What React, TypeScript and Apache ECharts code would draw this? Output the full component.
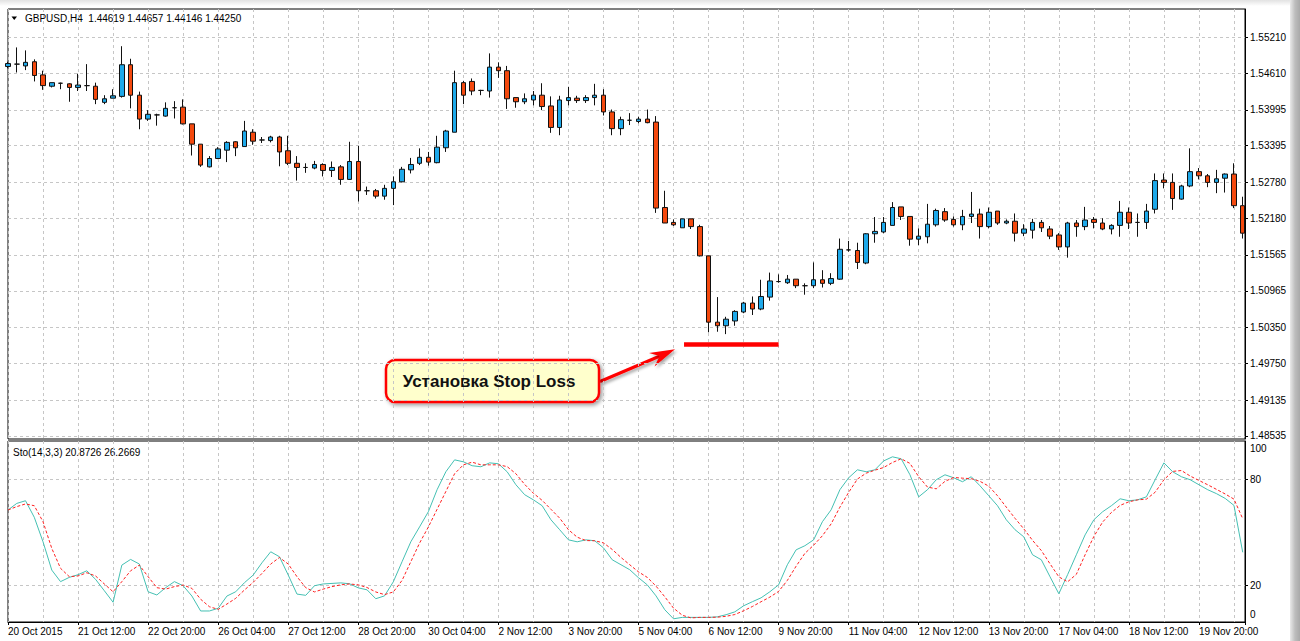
import React, { useEffect, useRef } from 'react';
import * as echarts from 'echarts';

// ---- data (GBPUSD H4, bars from 20 Oct 2015 04:00) ----
const opens = [1.5472,1.5476,1.5473,1.5480,1.5458,1.5439,1.5444,1.5443,1.5437,1.5440,1.5439,1.5412,1.5419,1.5422,1.5475,1.5424,1.5384,1.5391,1.5389,1.5403,1.5404,1.5376,1.5342,1.5304,1.5318,1.5332,1.5346,1.5338,1.5362,1.5349,1.5348,1.5354,1.5331,1.5310,1.5303,1.5302,1.5308,1.5298,1.5304,1.5283,1.5313,1.5264,1.5264,1.5255,1.5268,1.5279,1.5299,1.5310,1.5320,1.5311,1.5336,1.5362,1.5445,1.5447,1.5432,1.5431,1.5471,1.5465,1.5420,1.5413,1.5416,1.5424,1.5406,1.5370,1.5415,1.5419,1.5415,1.5420,1.5424,1.5396,1.5368,1.5382,1.5380,1.5384,1.5379,1.5236,1.5211,1.5202,1.5217,1.5204,1.5155,1.5044,1.5038,1.5046,1.5061,1.5076,1.5066,1.5086,1.5112,1.5110,1.5116,1.5105,1.5105,1.5115,1.5109,1.5116,1.5165,1.5164,1.5143,1.5192,1.5195,1.5206,1.5237,1.5221,1.5183,1.5187,1.5207,1.5229,1.5216,1.5207,1.5221,1.5225,1.5204,1.5230,1.5210,1.5213,1.5193,1.5198,1.5211,1.5200,1.5190,1.5170,1.5210,1.5204,1.5216,1.5210,1.5200,1.5206,1.5228,1.5211,1.5211,1.5233,1.5282,1.5278,1.5250,1.5272,1.5296,1.5289,1.5278,1.5285,1.5292,1.5239];
const closes = [1.5477,1.5476,1.5479,1.5457,1.5440,1.5445,1.5444,1.5437,1.5441,1.5440,1.5417,1.5418,1.5423,1.5475,1.5424,1.5384,1.5392,1.5391,1.5402,1.5403,1.5376,1.5342,1.5307,1.5318,1.5334,1.5345,1.5336,1.5364,1.5347,1.5349,1.5354,1.5329,1.5310,1.5303,1.5303,1.5308,1.5298,1.5303,1.5283,1.5313,1.5264,1.5264,1.5255,1.5268,1.5279,1.5300,1.5308,1.5320,1.5312,1.5337,1.5364,1.5445,1.5424,1.5431,1.5432,1.5471,1.5465,1.5418,1.5413,1.5418,1.5424,1.5405,1.5370,1.5416,1.5420,1.5415,1.5420,1.5424,1.5396,1.5368,1.5383,1.5382,1.5384,1.5378,1.5235,1.5210,1.5207,1.5217,1.5204,1.5155,1.5044,1.5038,1.5049,1.5062,1.5076,1.5066,1.5087,1.5113,1.5112,1.5116,1.5105,1.5105,1.5115,1.5109,1.5117,1.5166,1.5165,1.5144,1.5192,1.5196,1.5211,1.5236,1.5221,1.5183,1.5188,1.5208,1.5231,1.5215,1.5207,1.5221,1.5225,1.5204,1.5228,1.5210,1.5213,1.5193,1.5200,1.5211,1.5202,1.5188,1.5170,1.5210,1.5204,1.5215,1.5211,1.5200,1.5206,1.5228,1.5210,1.5211,1.5230,1.5281,1.5278,1.5251,1.5272,1.5296,1.5289,1.5278,1.5284,1.5292,1.5239,1.5193];
const lows = [1.5469,1.5462,1.5466,1.5447,1.5433,1.5437,1.5434,1.5413,1.5431,1.5431,1.5409,1.5409,1.5419,1.5420,1.5402,1.5367,1.5381,1.5373,1.5388,1.5385,1.5375,1.5323,1.5304,1.5303,1.5317,1.5312,1.5322,1.5338,1.5341,1.5344,1.5345,1.5305,1.5307,1.5281,1.5294,1.5300,1.5288,1.5287,1.5274,1.5282,1.5246,1.5257,1.5251,1.5249,1.5240,1.5278,1.5293,1.5307,1.5306,1.5310,1.5329,1.5362,1.5409,1.5424,1.5424,1.5420,1.5453,1.5401,1.5403,1.5409,1.5407,1.5399,1.5361,1.5357,1.5407,1.5411,1.5411,1.5407,1.5390,1.5357,1.5357,1.5374,1.5377,1.5377,1.5227,1.5210,1.5205,1.5202,1.5200,1.5154,1.5027,1.5028,1.5024,1.5038,1.5059,1.5056,1.5064,1.5080,1.5110,1.5108,1.5101,1.5090,1.5101,1.5102,1.5106,1.5115,1.5162,1.5133,1.5141,1.5177,1.5193,1.5206,1.5215,1.5172,1.5173,1.5176,1.5204,1.5212,1.5204,1.5198,1.5210,1.5184,1.5201,1.5207,1.5208,1.5179,1.5188,1.5184,1.5195,1.5183,1.5165,1.5152,1.5187,1.5198,1.5201,1.5198,1.5191,1.5187,1.5200,1.5187,1.5200,1.5226,1.5268,1.5232,1.5249,1.5270,1.5283,1.5270,1.5260,1.5261,1.5235,1.5184];
const highs = [1.5480,1.5504,1.5499,1.5484,1.5465,1.5445,1.5445,1.5444,1.5460,1.5476,1.5445,1.5424,1.5434,1.5506,1.5485,1.5430,1.5399,1.5393,1.5412,1.5414,1.5417,1.5376,1.5342,1.5322,1.5337,1.5347,1.5347,1.5381,1.5367,1.5354,1.5356,1.5356,1.5356,1.5322,1.5310,1.5314,1.5310,1.5313,1.5307,1.5346,1.5339,1.5271,1.5267,1.5274,1.5288,1.5304,1.5319,1.5335,1.5329,1.5356,1.5366,1.5465,1.5448,1.5452,1.5433,1.5494,1.5479,1.5473,1.5420,1.5427,1.5431,1.5444,1.5422,1.5423,1.5438,1.5423,1.5424,1.5443,1.5434,1.5400,1.5388,1.5394,1.5388,1.5400,1.5389,1.5264,1.5216,1.5217,1.5217,1.5207,1.5155,1.5086,1.5053,1.5064,1.5078,1.5087,1.5115,1.5127,1.5124,1.5123,1.5116,1.5109,1.5144,1.5131,1.5126,1.5184,1.5180,1.5177,1.5193,1.5220,1.5220,1.5245,1.5237,1.5221,1.5201,1.5242,1.5234,1.5235,1.5221,1.5232,1.5262,1.5234,1.5236,1.5230,1.5216,1.5226,1.5208,1.5217,1.5215,1.5205,1.5193,1.5212,1.5215,1.5237,1.5220,1.5218,1.5208,1.5247,1.5236,1.5226,1.5242,1.5293,1.5293,1.5293,1.5274,1.5335,1.5302,1.5292,1.5299,1.5293,1.5310,1.5254];

const stoMain = [62.6,66.3,67.8,58.5,44.7,28.8,22.3,24.7,26.2,28.4,23.6,17.2,10.7,31.6,34.8,32.2,16.6,14.8,18.9,22.3,20,14.2,5.8,5.8,7.3,14.2,16.6,21.7,26,32.9,39.1,36.3,26,15.3,14.6,20,21,21.3,21.6,21.1,18.8,17.7,12.7,14.3,22.2,33.5,44.7,53.1,61.6,74,84.1,90.8,89.7,87.5,86.9,89.1,88.6,84.1,76.8,71.2,68.3,65,57.1,51.5,45.8,44.7,45.8,45.3,41.3,34.6,31.8,29,24.5,20.5,14.3,6.5,1.4,2.2,2.2,2.2,2.2,2.5,3.7,5.3,8.7,11,13.2,16.6,20.5,31.8,40.2,42.5,45.8,56,62.7,74,80.7,85.2,84.1,85.2,90.2,92.5,91.4,82.4,70,74,79.6,82.4,80.7,78.5,81.3,76.2,70.6,65,57.1,51.5,47.5,37.4,34.6,25,15.5,26.2,37.4,48.6,57.1,61.6,65,68.9,67.8,68.3,70,79.6,89.1,84.1,81.3,79.6,76.8,74,71.8,69.1,65.2,38.8];
const stoSignal = [62.6,64.5,66,65,56,41,29.8,25.1,25.5,27.3,25.5,21,16.6,22.3,28.4,31.6,25.1,18.9,18.1,19.5,20.4,18.5,12.4,8.2,6.7,9.7,12.9,17.6,21.9,26.9,32.2,35.9,32.2,25.1,18.9,16.5,18.1,19.5,20.5,21,20.5,19,16.5,15,16.5,23,33.5,44,53,63,73,83,88,89.5,88,88,88,87,83,77,72,68,63,58,51.5,47.3,45.4,45.3,44.1,40.4,35.9,31.8,27.8,24.7,19.8,13.8,7.4,3.4,1.9,2.2,2.2,2.3,2.8,3.8,5.9,8.3,11,13.6,16.8,23,31,38.2,42.8,48.1,54.8,64.2,72.5,80,83.3,85,86.5,89.3,91.4,88.8,81.3,75.5,74.5,78.7,80.9,80.5,80.2,78.7,76,70.6,64.2,57.9,52,45.5,39.8,32.3,25,22.2,26.4,37.4,47.7,55.8,61.2,65.2,67.2,68.3,68.7,72.6,79.6,84.3,84.8,81.7,79.2,76.8,74.2,71.6,68.7,57.7];

// one time label every 8 bars
const timeLabels = ['20 Oct 2015','21 Oct 12:00','22 Oct 20:00','26 Oct 04:00','27 Oct 12:00','28 Oct 20:00','30 Oct 04:00','2 Nov 12:00','3 Nov 20:00','5 Nov 04:00','6 Nov 12:00','9 Nov 20:00','11 Nov 04:00','12 Nov 12:00','13 Nov 20:00','17 Nov 04:00','18 Nov 12:00','19 Nov 20:00'];
const priceTicks = [1.55210,1.54610,1.53995,1.53395,1.52780,1.52180,1.51565,1.50965,1.50350,1.49750,1.49135,1.48535];
const stoLabelTicks = [0, 20, 80, 100];
const stoLevels = [20, 80];

const stopLossPrice = 1.50075;
const stopLossFromBar = 77.2;
const stopLossToBar = 88.0;

const FONT = "'Liberation Sans', Arial, sans-serif";
const GRID_COLOR = '#c6c6c6';
const X_MAX = 141.26;
const LABEL_EVERY = 8;

export default function App() {
  const ref = useRef<HTMLDivElement>(null);
  useEffect(() => {
    const chart = echarts.init(ref.current!, null, { renderer: 'svg' });
    const candles = opens.map((o, i) => [i, o, closes[i], lows[i], highs[i]]);
    const kData = stoMain.map((v, i) => [i, v]);
    const dData = stoSignal.map((v, i) => [i, v]);

    const xBase = { type: 'value', min: 0, max: X_MAX };
    const dashed = { color: GRID_COLOR, type: [3, 3], width: 1 };

    const option: any = {
      animation: false,
      backgroundColor: '#ffffff',
      grid: [
        { left: 8, top: 9, width: 1237, height: 430, show: true, borderColor: '#000', borderWidth: 1, backgroundColor: 'transparent' },
        { left: 8, top: 441, width: 1237, height: 181, show: true, borderColor: '#000', borderWidth: 1, backgroundColor: 'transparent' },
      ],
      xAxis: [
        { ...xBase, gridIndex: 0, interval: 4, axisLine: { show: false }, axisTick: { show: false }, axisLabel: { show: false }, splitLine: { show: true, lineStyle: dashed } },
        { ...xBase, gridIndex: 1, interval: 4, axisLine: { show: false }, axisTick: { show: false }, axisLabel: { show: false }, splitLine: { show: true, lineStyle: dashed } },
        {
          ...xBase, gridIndex: 1, interval: LABEL_EVERY, position: 'bottom',
          axisLine: { show: true, onZero: false, lineStyle: { color: '#000', width: 1 } },
          axisTick: { show: true, length: 3, lineStyle: { color: '#000' } },
          splitLine: { show: false },
          axisLabel: {
            show: true, align: 'left', margin: 4, fontSize: 10, fontFamily: FONT, color: '#000',
            showMinLabel: true, showMaxLabel: true,
            formatter: (v: number) => {
              const k = Math.round(v);
              if (Math.abs(v - k) > 1e-6 || k % LABEL_EVERY !== 0) return '';
              return timeLabels[k / LABEL_EVERY] ?? '';
            },
          },
        },
      ],
      yAxis: [
        {
          type: 'value', gridIndex: 0, position: 'right', min: 1.48484, max: 1.55683,
          axisLine: { show: true, onZero: false, lineStyle: { color: '#000' } },
          axisTick: { show: true, length: 3, customValues: priceTicks, lineStyle: { color: '#000' } },
          axisLabel: { customValues: priceTicks, formatter: (v: number) => v.toFixed(5), fontSize: 10, fontFamily: FONT, color: '#000', margin: 5 },
          splitLine: { show: true, lineStyle: dashed },
        },
        {
          type: 'value', gridIndex: 1, position: 'right', min: -0.4, max: 101.4,
          axisLine: { show: true, onZero: false, lineStyle: { color: '#000' } },
          axisTick: { show: true, length: 3, customValues: stoLevels, lineStyle: { color: '#000' } },
          axisLabel: {
            customValues: stoLabelTicks, fontSize: 10, fontFamily: FONT, color: '#000', margin: 5,
            formatter: (v: number) => (v === 0 ? '{b|0}' : v === 100 ? '{t|100}' : String(v)),
            rich: {
              b: { fontSize: 10, fontFamily: FONT, color: '#000', padding: [0, 0, 14, 0] },
              t: { fontSize: 10, fontFamily: FONT, color: '#000', padding: [11, 0, 0, 0] },
            },
          },
          splitLine: { show: true, lineStyle: dashed },
        },
      ],
      series: [
        {
          type: 'candlestick', xAxisIndex: 0, yAxisIndex: 0, data: candles, barWidth: 5,
          itemStyle: { color: '#1EA9EA', color0: '#F4490E', borderColor: '#111', borderColor0: '#111', borderColorDoji: '#111', borderWidth: 1 },
          markLine: {
            silent: true, symbol: ['none', 'none'], label: { show: false },
            lineStyle: { color: '#FF0000', width: 4.5, type: 'solid' },
            data: [[{ coord: [stopLossFromBar, stopLossPrice] }, { coord: [stopLossToBar, stopLossPrice] }]],
          },
        },
        { type: 'line', xAxisIndex: 1, yAxisIndex: 1, data: kData, symbol: 'none', lineStyle: { color: '#45C0B3', width: 1 } },
        { type: 'line', xAxisIndex: 1, yAxisIndex: 1, data: dData, symbol: 'none', lineStyle: { color: '#FF2020', width: 1, type: [3, 2] } },
      ],
      graphic: [
        { type: 'rect', silent: true, shape: { x: 1290, y: 0, width: 10, height: 641 }, style: { fill: new echarts.graphic.LinearGradient(0, 0, 1, 0, [{ offset: 0, color: '#e9e9e9' }, { offset: 0.5, color: '#bdbdbd' }, { offset: 1, color: '#a9a9a9' }]) } },
        { type: 'rect', silent: true, shape: { x: 0, y: 0, width: 1290, height: 6 }, style: { fill: new echarts.graphic.LinearGradient(0, 0, 0, 1, [{ offset: 0, color: '#e2e2e2' }, { offset: 1, color: '#ffffff' }]) } },
        { type: 'polygon', silent: true, shape: { points: [[11.5, 16.5], [17, 16.5], [14.25, 20]] }, style: { fill: '#000' } },
        { type: 'text', silent: true, x: 25, y: 18, style: { text: 'GBPUSD,H4  1.44619 1.44657 1.44146 1.44250', fontSize: 10, fontFamily: FONT, fill: '#000', verticalAlign: 'middle' } },
        { type: 'text', silent: true, x: 13, y: 452, style: { text: 'Sto(14,3,3) 20.8726 26.2669', fontSize: 10, fontFamily: FONT, fill: '#000', verticalAlign: 'middle' } },
        { type: 'line', silent: true, shape: { x1: 600, y1: 381.5, x2: 660, y2: 356 }, style: { stroke: '#FF0000', lineWidth: 3, shadowBlur: 3, shadowOffsetX: 2, shadowOffsetY: 2, shadowColor: 'rgba(0,0,0,0.35)' } },
        { type: 'polygon', silent: true, shape: { points: [[675, 349.3], [649, 353], [659.6, 356], [654.5, 366.5]] }, style: { fill: '#FF0000', shadowBlur: 3, shadowOffsetX: 2, shadowOffsetY: 2, shadowColor: 'rgba(0,0,0,0.35)' } },
        { type: 'rect', silent: true, shape: { x: 386, y: 360, width: 213, height: 42, r: 9 }, style: { fill: '#FFFFCC', stroke: '#FF0000', lineWidth: 2.5, shadowBlur: 4, shadowOffsetX: 2, shadowOffsetY: 2, shadowColor: 'rgba(0,0,0,0.4)' } },
        { type: 'text', silent: true, x: 489, y: 381, style: { text: 'Установка Stop Loss', fontSize: 17, fontWeight: 'bold', fontFamily: FONT, fill: '#111', align: 'center', verticalAlign: 'middle' } },
      ],
    };
    chart.setOption(option);
    return () => chart.dispose();
  }, []);
  return <div ref={ref} style={{ position: 'fixed', left: 0, top: 0, width: 1300, height: 641, background: '#fff' }} />;
}
